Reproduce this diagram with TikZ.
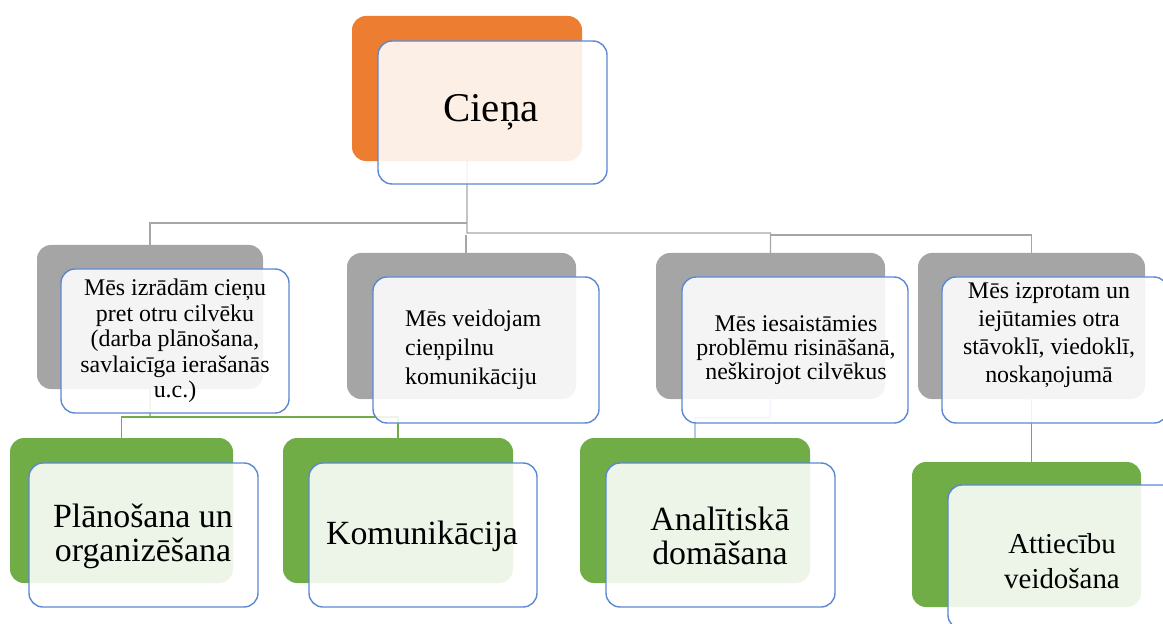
\documentclass[tikz,border=0pt]{standalone}
\usepackage{fontspec}
\setmainfont{Liberation Serif}
\definecolor{orangeA}{HTML}{ED7D31}
\definecolor{grayA}{HTML}{A5A5A5}
\definecolor{greenA}{HTML}{70AD47}
\definecolor{frameA}{HTML}{5B88D3}
\definecolor{lineG}{HTML}{A6A6A6}
\definecolor{lineB}{HTML}{8EA9DB}
\tikzset{
  backbox/.style={rectangle, rounded corners=14bp, inner sep=0pt, outer sep=0pt, anchor=north west, minimum width=229bp, minimum height=146bp},
  frontbox/.style={rectangle, rounded corners=14bp, inner sep=0pt, outer sep=0pt, anchor=north west, minimum width=228bp, minimum height=144bp, draw=frameA, line width=1.4bp, fill=white, fill opacity=0.88},
  lbl/.style={inner sep=0pt, align=center, text=black},
  trunk/.style={draw=lineG, line width=1.3bp},
  gconn/.style={draw=greenA, line width=1.3bp},
  bconn/.style={draw=lineB, line width=1.3bp},
}
\begin{document}
\begin{tikzpicture}[x=1bp,y=-1bp]
\useasboundingbox (0,0) rectangle (1163,624);
\begin{scope}
\clip (0,0) rectangle (1163,624);
% back boxes
\node[backbox, fill=orangeA, minimum width=230bp, minimum height=145bp] (c0) at (352,16) {};
\node[backbox, fill=grayA, minimum width=226bp, minimum height=144bp] (b1) at (37,245) {};
\node[backbox, fill=grayA] (b2) at (347,253) {};
\node[backbox, fill=grayA] (b3) at (656,253) {};
\node[backbox, fill=grayA, minimum width=227bp] (b4) at (918,253) {};
\node[backbox, fill=greenA, minimum width=223bp, minimum height=145bp] (g1) at (10,438) {};
\node[backbox, fill=greenA, minimum width=230bp, minimum height=145bp] (g2) at (283,438) {};
\node[backbox, fill=greenA, minimum width=230bp, minimum height=145bp] (g3) at (580,438) {};
\node[backbox, fill=greenA, minimum width=229bp, minimum height=145bp] (g4) at (912,462) {};
% connectors
\coordinate (j0) at (467,223);
\coordinate (j1) at (467,233);
\coordinate (j2) at (770,235);
\coordinate (j3) at (466,235);
\coordinate (k1) at (150,417);
\coordinate (k3) at (770,418);
\draw[trunk] (c0.south) -- (j1) -| (b3.north);
\draw[trunk] (j0) -| (b1.north);
\draw[trunk] (j2) -| (b4.north);
\draw[trunk] (j3) -- (j3 |- b2.north);
\draw[gconn] (b1.south) -- (k1);
\draw[gconn] (g1.north) |- (k1) -| (g2.north);
\draw[bconn] (b3.south) -- (k3) -| (g3.north);
\draw[gconn] (b4.south) -- (b4.south |- g4.north);
% front boxes
\node[frontbox, minimum width=229bp, minimum height=143bp] (f0) at (378,41) {};
\node[frontbox] (f1) at (61,269) {};
\node[frontbox, minimum width=226bp, minimum height=146bp] (f2) at (373,277) {};
\node[frontbox, minimum width=226bp, minimum height=146bp] (f3) at (682,277) {};
\node[frontbox, minimum width=226bp, minimum height=146bp] (f4) at (942,277) {};
\node[frontbox, minimum width=229bp] (h1) at (29,463) {};
\node[frontbox, minimum width=228bp] (h2) at (309,463) {};
\node[frontbox, minimum width=229bp] (h3) at (606,463) {};
\node[frontbox, minimum width=229bp] (h4) at (948,485) {};
% texts
\node[lbl, font=\fontsize{41}{45}\selectfont] (t0) at (491,112) {Cieņa};
\node[lbl, font=\fontsize{24}{25.6}\selectfont] (t1) at (175,341) {Mēs izrādām cieņu\\pret otru cilvēku\\(darba plānošana,\\savlaicīga ierašanās\\u.c.)};
\node[lbl, align=left, anchor=west, font=\fontsize{24}{29}\selectfont] (t2) at (405,350) {Mēs veidojam\\cieņpilnu\\komunikāciju};
\node[lbl, font=\fontsize{24}{24.4}\selectfont] (t3) at (796,350) {Mēs iesaistāmies\\problēmu risināšanā,\\neškirojot cilvēkus};
\node[lbl, font=\fontsize{24}{28}\selectfont] (t4) at (1049,335) {Mēs izprotam un\\iejūtamies otra\\stāvoklī, viedoklī,\\noskaņojumā};
\node[lbl, font=\fontsize{34}{34}\selectfont] (u1) at (143,536) {Plānošana un\\organizēšana};
\node[lbl, font=\fontsize{34}{34}\selectfont] (u2) at (422,536) {Komunikācija};
\node[lbl, font=\fontsize{34}{34}\selectfont] (u3) at (720,536) {Analītiskā\\domāšana};
\node[lbl, font=\fontsize{29}{35}\selectfont] (u4) at (1062,561) {Attiecību\\veidošana};
\end{scope}
\end{tikzpicture}
\end{document}
